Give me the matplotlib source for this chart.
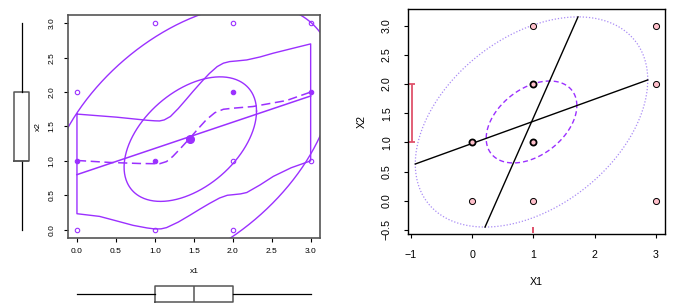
import numpy as np
import matplotlib.pyplot as plt

plt.rcParams['font.family'] = ['Liberation Sans', 'DejaVu Sans']

PURPLE = '#9B30FF'
LIGHT_PURPLE = '#A98BF5'
RED = '#DF536B'
GRAY = '#555555'

# ---- left panel data (x1, x2), repeated points are listed twice
left_x1 = [0, 0, 0, 0, 1, 1, 1, 1, 2, 2, 2, 2, 2, 3, 3, 3, 3]
left_x2 = [0, 1, 1, 2, 0, 1, 1, 3, 0, 1, 2, 2, 3, 1, 2, 2, 3]
left_center = (1.455, 1.316)

# straight fit: intercept, slope
lin_coef = (0.80, 0.381)

# smoothed mean (dashed)
smooth_x = [0.0, 0.42, 0.8, 1.06, 1.15, 1.23, 1.32, 1.45, 1.55, 1.66, 1.77, 1.88, 2.0,
            2.26, 2.69, 3.0]
smooth_y = [1.006, 0.977, 0.962, 0.958, 0.99, 1.064, 1.17, 1.33, 1.46, 1.597, 1.70, 1.75,
            1.765, 1.79, 1.877, 2.0]

# spread band (upper / lower)
upper_x = [0.0, 0.51, 0.9, 1.0, 1.06, 1.12, 1.2, 1.3, 1.4, 1.49, 1.6, 1.7, 1.8, 1.88,
           1.96, 2.05, 2.18, 2.35, 2.52, 2.75, 3.0]
upper_y = [1.68, 1.635, 1.59, 1.582, 1.58, 1.595, 1.645, 1.76, 1.89, 2.01, 2.15, 2.27,
           2.37, 2.42, 2.443, 2.452, 2.467, 2.51, 2.565, 2.63, 2.70]
lower_x = [0.0, 0.29, 0.5, 0.72, 0.9, 1.0, 1.08, 1.15, 1.3, 1.45, 1.58, 1.7, 1.83, 1.93,
           2.0, 2.1, 2.18, 2.35, 2.52, 2.75, 3.0]
lower_y = [0.232, 0.193, 0.13, 0.063, 0.025, 0.01, 0.012, 0.03, 0.11, 0.21, 0.30, 0.38,
           0.46, 0.50, 0.508, 0.52, 0.54, 0.65, 0.774, 0.90, 1.0]

# ellipse shape: sd_x, sd_y, correlation, radii
left_ell = (0.85, 0.905, 0.45)
left_radii = [1.0, 2.17]

# marginal box summaries: whislo, q1, med, q3, whishi
box_x1 = (0, 1, 1.5, 2, 3)
box_x2 = (0, 1, 1, 2, 3)

# ---- right panel data (X1, X2)
right_x1 = [0, 0, 0, 1, 1, 1, 1, 1, 1, 3, 3, 3]
right_x2 = [0, 1, 1, 0, 1, 1, 2, 2, 3, 0, 2, 3]
right_center = (0.97, 1.35)
right_ell = (1.9, 1.8, 0.40)
right_radii = [1.0, 0.39]
x2_interval = (1.0, 2.0)
x1_interval = (1.0, 1.0)


def ellipse(center, shape, radius, n=400):
    sx, sy, r = shape
    cov = np.array([[sx * sx, r * sx * sy], [r * sx * sy, sy * sy]])
    L = np.linalg.cholesky(cov)
    t = np.linspace(0, 2 * np.pi, n)
    pts = L @ np.vstack([np.cos(t), np.sin(t)]) * radius
    return center[0] + pts[0], center[1] + pts[1]


W, H = 683, 307
fig = plt.figure(figsize=(W / 100, H / 100), dpi=100)

# ================= left panel =================
ax = fig.add_axes([68 / W, (H - 238) / H, 252 / W, 223 / H])
ax.set_xlim(-0.115, 3.12)
ax.set_ylim(-0.121, 3.12)

pts = {}
for a, b in zip(left_x1, left_x2):
    pts[(a, b)] = pts.get((a, b), 0) + 1
for (a, b), k in pts.items():
    ax.plot(a, b, 'o', ms=3.2, mew=0.8, mec=PURPLE,
            mfc=PURPLE if k > 1 else 'none', zorder=3)
ax.plot(*left_center, 'o', ms=5.5, color=PURPLE, zorder=3)

xx = np.array([0.0, 3.0])
ax.plot(xx, lin_coef[0] + lin_coef[1] * xx, color=PURPLE, lw=1.1)
ax.plot(smooth_x, smooth_y, color=PURPLE, lw=1.1, dashes=(6, 3))
band_x = upper_x + lower_x[::-1] + [upper_x[0]]
band_y = upper_y + lower_y[::-1] + [upper_y[0]]
ax.plot(band_x, band_y, color=PURPLE, lw=1.0)
for rad in left_radii:
    ex, ey = ellipse(left_center, left_ell, rad)
    ax.plot(ex, ey, color=PURPLE, lw=1.0)

ticks = np.arange(0, 3.01, 0.5)
ax.set_xticks(ticks)
ax.set_yticks(ticks)
ax.set_xticklabels([f'{t:.1f}' for t in ticks])
ax.set_yticklabels([f'{t:.1f}' for t in ticks], rotation=90, va='center')
ax.tick_params(axis='x', length=3, width=0.8, colors='black', pad=4, labelsize=6)
ax.tick_params(axis='y', length=3, width=0.8, colors='black', pad=6, labelsize=6)
for s in ax.spines.values():
    s.set_color(GRAY)
    s.set_linewidth(1.2)
ax.text(0.5, -0.152, 'x1', transform=ax.transAxes, ha='center', va='center', fontsize=6)
ax.text(-0.119, 0.5, 'x2', transform=ax.transAxes, ha='center', va='center',
        fontsize=6, rotation=90)


def draw_box(bax, stats, vert, width):
    lo, q1, med, q3, hi = stats
    bax.bxp([dict(whislo=lo, q1=q1, med=med, q3=q3, whishi=hi, fliers=[])],
            positions=[0], widths=width, vert=vert, showcaps=False,
            boxprops=dict(color=GRAY, lw=1.1),
            whiskerprops=dict(color='black', lw=0.9, ls='-'),
            medianprops=dict(color=GRAY, lw=1.1))
    bax.axis('off')


# left marginal boxplot (x2)
bax = fig.add_axes([0, (H - 238) / H, 43 / W, 223 / H])
bax.set_ylim(-0.121, 3.12)
bax.set_xlim(-1, 1)
draw_box(bax, box_x2, True, 0.744)

# bottom marginal boxplot (x1)
bax2 = fig.add_axes([68 / W, 0, 252 / W, 26 / H])
bax2.set_xlim(-0.115, 3.12)
bax2.set_ylim(-1, 1)
draw_box(bax2, box_x1, False, 1.23)

# ================= right panel =================
ax2 = fig.add_axes([407.7 / W, (H - 234) / H, 257.3 / W, 224.7 / H])
ax2.set_xlim(-1.054, 3.152)
ax2.set_ylim(-0.569, 3.28)

ex, ey = ellipse(right_center, right_ell, right_radii[0])
ax2.plot(ex, ey, color=LIGHT_PURPLE, lw=0.9, ls=(0, (1, 1.5)))
ex, ey = ellipse(right_center, right_ell, right_radii[1])
ax2.plot(ex, ey, color=PURPLE, lw=1.0, dashes=(3.6, 2.2))

sx, sy, r = right_ell
cx, cy = right_center
rad = right_radii[0]
# regression of X2 on X1 and X1 on X2, drawn to the ellipse's tangent points
lx = np.array([cx - sx * rad, cx + sx * rad])
ax2.plot(lx, cy + r * sy / sx * (lx - cx), color='black', lw=1.0)
ly = np.array([cy - sy * rad, cy + sy * rad])
ax2.plot(cx + r * sx / sy * (ly - cy), ly, color='black', lw=1.0)

pts = {}
for a, b in zip(right_x1, right_x2):
    pts[(a, b)] = pts.get((a, b), 0) + 1
for (a, b), k in pts.items():
    ax2.plot(a, b, 'o', ms=4.4, mfc='#FFC0CB', mec='black',
             mew=0.7 if k == 1 else 1.3, zorder=4)

ax2.errorbar(-0.98, np.mean(x2_interval), yerr=(x2_interval[1] - x2_interval[0]) / 2,
             color=RED, lw=1.3, capsize=2.3, capthick=1.3, fmt='none')
ax2.errorbar(np.mean(x1_interval), -0.5, xerr=(x1_interval[1] - x1_interval[0]) / 2,
             color=RED, lw=1.3, capsize=2.3, capthick=1.3, fmt='none')

ax2.set_xticks([-1, 0, 1, 2, 3])
yt = np.arange(-0.5, 3.01, 0.5)
ax2.set_yticks(yt)
ax2.set_yticklabels([f'{t:.1f}'.replace('-', '\u2212') for t in yt], rotation=90, va='center')
ax2.tick_params(length=3.2, width=0.8, pad=8.3, labelsize=7.7)
for s in ax2.spines.values():
    s.set_linewidth(1.0)
ax2.text(0.5, -0.2136, 'X1', transform=ax2.transAxes, ha='center', va='center', fontsize=7.7)
ax2.text(-0.178, 0.5, 'X2', transform=ax2.transAxes, ha='center', va='center',
         fontsize=7.7, rotation=90)

fig.savefig('out.png', dpi=100)
